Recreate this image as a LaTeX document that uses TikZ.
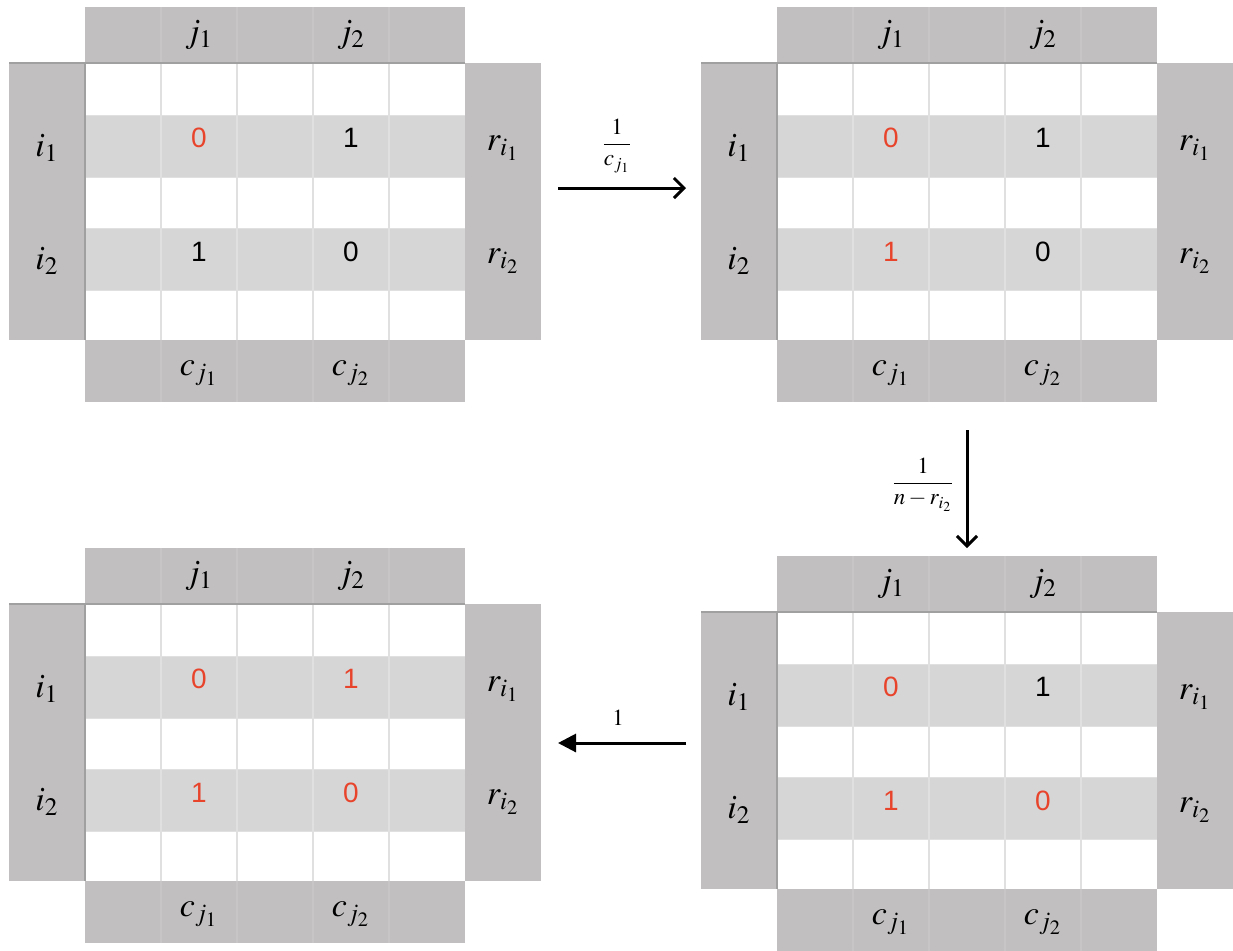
\documentclass[tikz,border=0pt]{standalone}
\usepackage{amsmath}
\usepackage{mathptmx}
\usepackage[no-math]{fontspec}
\setsansfont{Liberation Sans}
\definecolor{bandgray}{RGB}{193, 191, 192}
\definecolor{bandline}{RGB}{199, 197, 198}
\definecolor{rowgray}{RGB}{214, 214, 214}
\definecolor{gridline}{RGB}{224, 224, 224}
\definecolor{edgegray}{RGB}{160, 160, 160}
\definecolor{hitred}{RGB}{232, 68, 44}
\usepackage{tikz}
\usetikzlibrary{arrows.meta,calc}

\tikzset{
    mathlbl/.style={inner sep=0pt, font=\fontsize{17}{20}\selectfont},
    entry/.style={inner sep=0pt, font=\sffamily\fontsize{14}{16}\selectfont},
    steplbl/.style={inner sep=0pt, font=\fontsize{11.5}{13}\selectfont},
    steparrow/.style={line width=1.5pt},
}

% one 2x2 panel: name, x shift, y shift, colours of the four entries
\newcommand{\gridpanel}[7]{%
  \begin{scope}[shift={(#2,#3)}]
    \fill[bandgray] (85,7) rectangle (465,63);
    \fill[bandgray] (9,63) rectangle (85,340);
    \fill[bandgray] (465,63) rectangle (541,340);
    \fill[bandgray] (85,340) rectangle (465,402);
    \fill[white] (85,63) rectangle (465,340);
    \fill[rowgray] (85,115) rectangle (465,177);
    \fill[rowgray] (85,228) rectangle (465,290);
    \foreach \y in {115,177,228,290}
        \draw[gridline, line width=0.5pt] (85,\y) -- (465,\y);
    \foreach \x in {161,237,313,389} {
        \draw[gridline, line width=0.6pt] (\x,63) -- (\x,340);
        \draw[bandline, line width=0.6pt] (\x,7) -- (\x,63);
        \draw[bandline, line width=0.6pt] (\x,340) -- (\x,402);
    }
    \draw[edgegray, line width=0.6pt] (9,63) -- (465,63);
    \draw[edgegray, line width=0.6pt] (85,63) -- (85,340);
    \node[mathlbl] (#1-j1) at (199,35) {$j_1$};
    \node[mathlbl] (#1-j2) at (351,35) {$j_2$};
    \node[mathlbl] (#1-i1) at (47,148) {$i_1$};
    \node[mathlbl] (#1-i2) at (47,261) {$i_2$};
    \node[mathlbl] (#1-r1) at (503,148) {$r_{i_1}$};
    \node[mathlbl] (#1-r2) at (503,261) {$r_{i_2}$};
    \node[mathlbl] (#1-c1) at (199,373) {$c_{j_1}$};
    \node[mathlbl] (#1-c2) at (351,373) {$c_{j_2}$};
    \node[entry, text=#4] (#1-a11) at (199,138) {0};
    \node[entry, text=#5] (#1-a12) at (351,138) {1};
    \node[entry, text=#6] (#1-a21) at (199,252) {1};
    \node[entry, text=#7] (#1-a22) at (351,252) {0};
  \end{scope}}

\begin{document}
\begin{tikzpicture}[x=0.5pt, y=-0.5pt]
    \useasboundingbox[fill=white] (0,0) rectangle (1233,950);

    \gridpanel{start}{0}{0}{hitred}{black}{black}{black}
    \gridpanel{second}{692}{0}{hitred}{black}{hitred}{black}
    \gridpanel{third}{692}{549}{hitred}{black}{hitred}{hitred}
    \gridpanel{last}{0}{541}{hitred}{hitred}{hitred}{hitred}

    % transitions
    \coordinate (s1a) at (558,188);
    \coordinate (s1b) at (686,188);
    \coordinate (s2a) at (967,430);
    \coordinate (s2b) at (967,548);
    \coordinate (s3a) at (686,743);
    \coordinate (s3b) at (558,743);

    \draw[steparrow, -{Straight Barb[length=5pt, width=10pt, line width=1.5pt]}] (s1a) -- (s1b);
    \draw[steparrow, -{Straight Barb[length=5pt, width=10pt, line width=1.5pt]}] (s2a) -- (s2b);
    \draw[steparrow, -{Triangle[length=9pt, width=9pt]}] (s3a) -- (s3b);

    \node[steplbl] (p1) at (617,146) {$\dfrac{1}{c_{j_1}}$};
    \node[steplbl] (p2) at (923,485) {$\dfrac{1}{n-r_{i_2}}$};
    \node[steplbl] (p3) at (618,718) {$1$};
\end{tikzpicture}
\end{document}
